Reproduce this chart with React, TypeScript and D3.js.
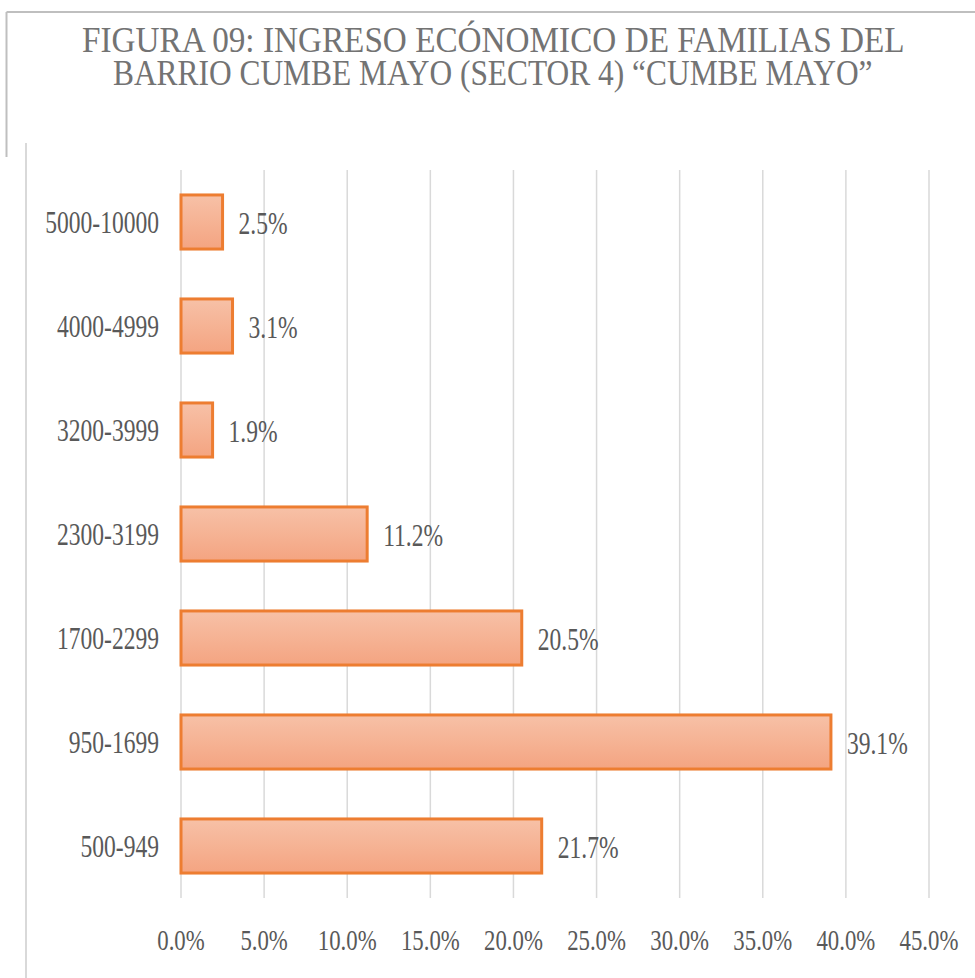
import React, { useLayoutEffect, useRef, useState } from "react";
import * as d3 from "d3";

const categories = ["5000-10000", "4000-4999", "3200-3999", "2300-3199", "1700-2299", "950-1699", "500-949"];
const values = [2.5, 3.1, 1.9, 11.2, 20.5, 39.1, 21.7];
const xTicks = [0, 5, 10, 15, 20, 25, 30, 35, 40, 45];
const titleLines = [
  "FIGURA 09: INGRESO ECÓNOMICO DE FAMILIAS DEL",
  "BARRIO CUMBE MAYO (SECTOR 4) “CUMBE MAYO”",
];

const W = 975;
const H = 978;
const SX = 0.76;
const FONT = "'Liberation Serif', 'Times New Roman', serif";

function CText({ x, y, anchor, size, fill, children }: any) {
  return (
    <text
      transform={`translate(${x},${y}) scale(${SX},1)`}
      textAnchor={anchor}
      fontSize={size}
      fill={fill}
      fontFamily={FONT}
    >
      {children}
    </text>
  );
}

function FitText({ x, y, width, size, fill, children }: any) {
  const ref = useRef<SVGTextElement>(null);
  const [sx, setSx] = useState(0.76);
  useLayoutEffect(() => {
    if (ref.current) {
      const len = ref.current.getComputedTextLength();
      if (len > 0) setSx(width / len);
    }
  }, [width, children]);
  return (
    <text
      ref={ref}
      transform={`translate(${x},${y}) scale(${sx},1)`}
      fontSize={size}
      fill={fill}
      fontFamily={FONT}
    >
      {children}
    </text>
  );
}

export default function App() {
  const x = d3.scaleLinear().domain([0, 45]).range([181, 929]);
  const y = d3
    .scaleBand<string>()
    .domain(categories)
    .range([170, 898])
    .paddingInner(0.48)
    .paddingOuter(0.24);
  const bw = y.bandwidth();

  return (
    <svg
      width={W}
      height={H}
      style={{ position: "absolute", left: 0, top: 0, background: "#fff" }}
    >
      <defs>
        <linearGradient id="barGrad" x1="0" y1="0" x2="0" y2="1">
          <stop offset="0%" stopColor="#F7C1A7" />
          <stop offset="100%" stopColor="#F4A481" />
        </linearGradient>
      </defs>
      <rect x={0} y={0} width={W} height={H} fill="#fff" />
      {/* borders */}
      <line x1={6.5} y1={12} x2={W} y2={12} stroke="#BFBFBF" strokeWidth={2} />
      <line x1={6.5} y1={12} x2={6.5} y2={157} stroke="#BFBFBF" strokeWidth={2} />
      <line x1={26} y1={143} x2={26} y2={H} stroke="#D9D9D9" strokeWidth={2} />

      {/* title */}
      <FitText x={82} y={52} width={823} size={36} fill="#737373">
        {titleLines[0]}
      </FitText>
      <FitText x={113} y={85} width={760} size={36} fill="#737373">
        {titleLines[1]}
      </FitText>

      {/* gridlines */}
      {xTicks.map((t) => (
        <line
          key={t}
          x1={x(t)}
          x2={x(t)}
          y1={170}
          y2={898}
          stroke="#D9D9D9"
          strokeWidth={1.5}
        />
      ))}

      {/* bars */}
      {categories.map((c, i) => {
        const y0 = y(c)!;
        return (
          <g key={c}>
            <rect
              x={x(0)}
              y={y0}
              width={x(values[i]) - x(0)}
              height={bw}
              fill="url(#barGrad)"
              stroke="#ED7D31"
              strokeWidth={3}
            />
            <CText x={x(values[i]) + 16} y={y0 + bw / 2 + 12} anchor="start" size={31} fill="#595959">
              {values[i].toFixed(1) + "%"}
            </CText>
            <CText x={159} y={y0 + bw / 2 + 10.5} anchor="end" size={31} fill="#595959">
              {c}
            </CText>
          </g>
        );
      })}

      {/* x tick labels */}
      {xTicks.map((t) => (
        <CText key={t} x={x(t)} y={950} anchor="middle" size={30} fill="#595959">
          {t.toFixed(1) + "%"}
        </CText>
      ))}
    </svg>
  );
}
